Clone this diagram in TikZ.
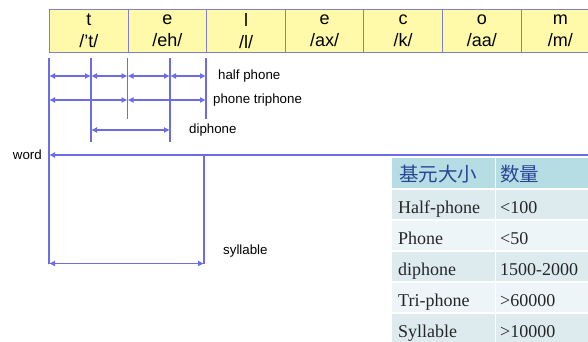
\documentclass[tikz,border=0pt]{standalone}
\usepackage{fontspec}
\setmainfont{Liberation Sans}
\newfontfamily\tabfont{Liberation Serif}
\newfontfamily\cjkfont{Noto Sans CJK SC}
\usetikzlibrary{arrows.meta}
\definecolor{boxfill}{RGB}{255,250,170}
\definecolor{boxline}{RGB}{128,128,208}
\definecolor{arrline}{RGB}{108,108,230}
\definecolor{headfill}{RGB}{182,221,227}
\definecolor{rowdark}{RGB}{221,235,239}
\definecolor{rowlight}{RGB}{237,245,248}
\definecolor{headtext}{RGB}{40,70,150}
\tikzset{
  x=1pt, y=-1pt,
  seg/.style={draw=boxline, fill=boxfill, line width=1pt, minimum width=78.6pt, minimum height=43pt, inner sep=0pt, anchor=north west, align=center, font=\fontsize{18}{22}\selectfont},
  tick/.style={draw=arrline, line width=1.1pt},
  dim/.style={draw=arrline, line width=1.1pt, {Latex[length=6pt,width=6pt]}-{Latex[length=6pt,width=6pt]}},
  lbl/.style={font=\fontsize{13.3}{15}\selectfont, anchor=west, inner sep=0pt},
  ctext/.style={anchor=base west, inner sep=0pt, font=\tabfont\fontsize{18}{20}\selectfont, text=black!85},
  htext/.style={anchor=base west, inner sep=0pt, font=\cjkfont\fontsize{19.5}{22}\selectfont, text=headtext},
}
\begin{document}
\begin{tikzpicture}
\useasboundingbox (0,0) rectangle (588,342);
\clip (0,0) rectangle (588,342);
\fill[white] (0,0) rectangle (588,342);
% top boxes
\node[seg] (b1) at (49,9) {t\\/'t/};
\node[seg] (b2) at (127.6,9) {e\\/eh/};
\node[seg] (b3) at (206.2,9) {l\\/l/};
\node[seg] (b4) at (284.8,9) {e\\/ax/};
\node[seg] (b5) at (363.4,9) {c\\/k/};
\node[seg] (b6) at (442,9) {o\\/aa/};
\node[seg] (b7) at (520.6,9) {m\\/m/};
% coordinates
\coordinate (t1) at (49,58);   \coordinate (t1b) at (49,264);
\coordinate (t2) at (91,58);   \coordinate (t2b) at (91,142);
\coordinate (t3) at (127.5,58);\coordinate (t3b) at (127.5,119);
\coordinate (t4) at (170,58);  \coordinate (t4b) at (170,142);
\coordinate (t5) at (206,58);  \coordinate (t5b) at (206,119);
\coordinate (s1) at (204,155); \coordinate (s1b) at (204,264);
\coordinate (wR) at (600,155); \coordinate (wL) at (49,155);
\draw[tick] (t1) -- (t1b);
\draw[tick] (t2) -- (t2b);
\draw[tick] (t3) -- (t3b);
\draw[tick] (t4) -- (t4b);
\draw[tick] (t5) -- (t5b);
\draw[tick] (s1) -- (s1b);
% half phone
\draw[dim] (49,76) -- (91,76);
\draw[dim] (91,76) -- (127.5,76);
\draw[dim] (127.5,76) -- (170,76);
\draw[dim] (170,76) -- (206,76);
% phone
\draw[dim] (49,100) -- (127.5,100);
\draw[dim] (127.5,100) -- (206,100);
% diphone
\draw[dim] (91,130) -- (170,130);
% word
\draw[tick, -{Latex[length=6pt,width=6pt]}] (wR) -- (wL);
% syllable
\draw[dim] (49,263.5) -- (204,263.5);
% labels
\node[lbl] (lh) at (218,76) {half phone};
\node[lbl] (lp) at (213,100) {phone triphone};
\node[lbl] (ld) at (189,130) {diphone};
\node[lbl, anchor=east] (lw) at (42,155) {word};
\node[lbl] (ls) at (223,251) {syllable};
% table
\fill[headfill] (391.5,158) rectangle (494.5,188);
\fill[headfill] (496,158) rectangle (600,188);
\fill[rowdark]  (391.5,189.5) rectangle (494.5,219);
\fill[rowdark]  (496,189.5) rectangle (600,219);
\fill[rowlight] (391.5,220.5) rectangle (494.5,250);
\fill[rowlight] (496,220.5) rectangle (600,250);
\fill[rowdark]  (391.5,251.5) rectangle (494.5,281);
\fill[rowdark]  (496,251.5) rectangle (600,281);
\fill[rowlight] (391.5,282.5) rectangle (494.5,312);
\fill[rowlight] (496,282.5) rectangle (600,312);
\fill[rowdark]  (391.5,313.5) rectangle (494.5,350);
\fill[rowdark]  (496,313.5) rectangle (600,350);
\node[htext] (h1) at (399,181) {基元大小};
\node[htext] (h2) at (500,181) {数量};
\node[ctext] (r1a) at (398,213) {Half-phone};
\node[ctext] (r1b) at (500,213) {<100};
\node[ctext] (r2a) at (398,244) {Phone};
\node[ctext] (r2b) at (500,244) {<50};
\node[ctext] (r3a) at (398,275) {diphone};
\node[ctext] (r3b) at (500,275) {1500-2000};
\node[ctext] (r4a) at (398,306) {Tri-phone};
\node[ctext] (r4b) at (500,306) {>60000};
\node[ctext] (r5a) at (398,337) {Syllable};
\node[ctext] (r5b) at (500,337) {>10000};
\end{tikzpicture}
\end{document}
